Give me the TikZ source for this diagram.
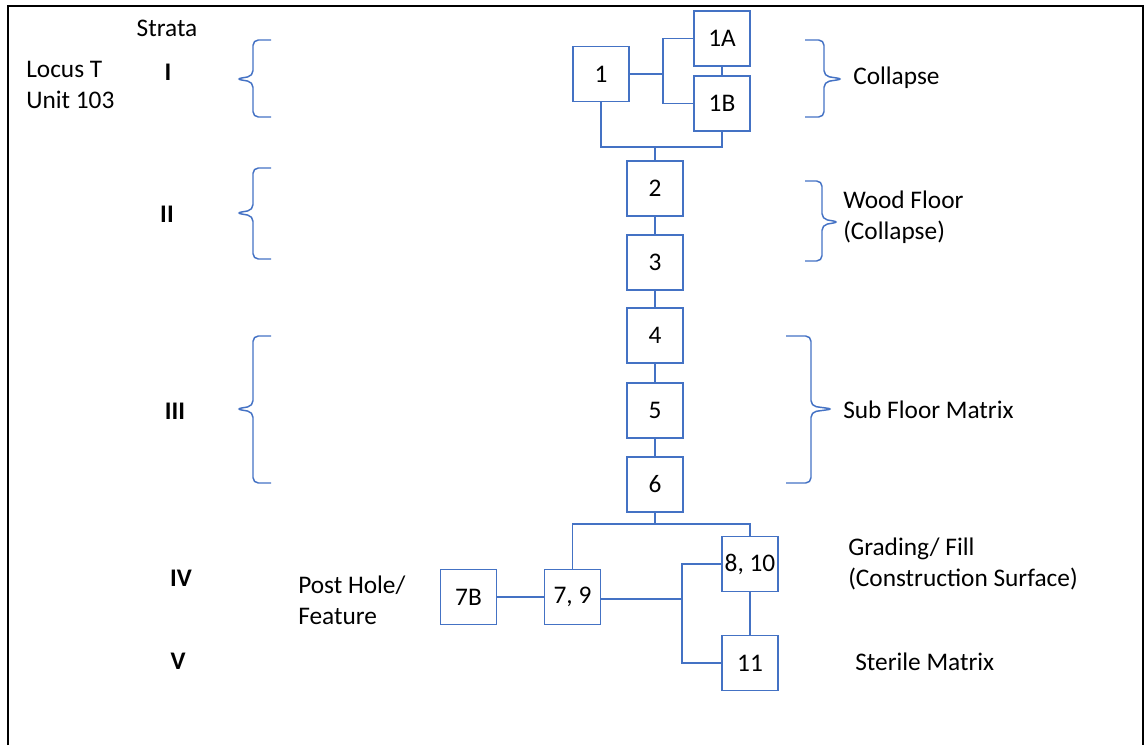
\documentclass[tikz,border=0pt]{standalone}
\usepackage{fontspec}
\setmainfont{Carlito}
\usepackage{xcolor}
\definecolor{boxblue}{HTML}{4472C4}

\begin{document}
\begin{tikzpicture}[
          x=0.75pt, y=-0.75pt,
          unit/.style={draw=boxblue, line width=1.2pt, minimum width=42pt, minimum height=41pt, inner sep=0pt, font=\fontsize{19}{22}\selectfont},
          link/.style={draw=boxblue, line width=1.1pt},
          brc/.style={draw=boxblue, line width=1.1pt, rounded corners=4pt},
          lbl/.style={font=\fontsize{19}{23.5}\selectfont, align=left, anchor=west, inner sep=0pt},
          strat/.style={font=\fontsize{19}{22}\selectfont\bfseries, inner sep=0pt}
      ]
        \useasboundingbox (0,0) rectangle (1144,745);
        \draw[line width=1.5pt] (8,745) -- (8,6) -- (1143,6) -- (1143,745);

        % strata column
        \node[lbl, anchor=center] (strata) at (167,28) {Strata};
        \node[lbl] (locus) at (26,85) {Locus T\\Unit 103};
        \foreach \s/\x/\y in {I/168/72,II/167/214,III/175/411,IV/181/578,V/178/661} {
          \node[strat] (st\s) at (\x,\y) {\s};
        }

        % braces
        \foreach \t/\m/\b in {40/79/117,168/213/259,336/409/483} {
          \draw[brc] (271,\t) -- (253,\t) -- (253,\m-3) -- (236,\m) -- (253,\m+3) -- (253,\b) -- (271,\b);
        }
        \foreach \t/\m/\b/\xe/\xv/\xt in {40/79/117/805/824/843,181/222/261/805/822/839,336/409/483/786/811/833} {
          \draw[brc] (\xe,\t) -- (\xv,\t) -- (\xv,\m-3) -- (\xt,\m) -- (\xv,\m+3) -- (\xv,\b) -- (\xe,\b);
        }

        % units
        \node[unit] (n1) at (601,74) {1};
        \node[unit] (n1a) at (722,38.5) {1A};
        \node[unit] (n1b) at (722,103.5) {1B};
        \foreach \n/\y in {2/188.5,3/262.5,4/335.5,5/410.5,6/484.5} {
          \node[unit] (n\n) at (655,\y) {\n};
        }
        \node[unit] (n7b) at (468.5,597) {7B};
        \node[unit] (n79) at (572.5,597) {7, 9};
        \node[unit] (n810) at (750,564) {8, 10};
        \node[unit] (n11) at (750,663) {11};

        % connectors
        \coordinate (jt) at (664,74);
        \coordinate (j1) at (655,147);
        \coordinate (j6) at (655,524);
        \coordinate (jm) at (683,599);
        \draw[link] (n1.east) -- (jt);
        \draw[link] (n1a.west) -- ++(-30,0) |- (n1b.west);
        \draw[link] (n1a) -- (n1b);
        \draw[link] (n1.south) |- (j1) -| (n1b.south);
        \draw[link] (j1) -- (n2.north);
        \foreach \a/\b in {2/3,3/4,4/5,5/6} {
          \draw[link] (n\a) -- (n\b);
        }
        \draw[link] (n6.south) -- (j6);
        \draw[link] (n79.north) |- (j6) -| (n810.north);
        \draw[link] (n7b) -- (n79);
        \draw[link] (n79.east |- jm) -- (jm);
        \draw[link] (n810.west) -- ++(-39,0) |- (n11.west);
        \draw[link] (n810) -- (n11);

        % layer labels
        \node[lbl] (collapse) at (853,78) {Collapse};
        \node[lbl] (wood) at (843,217) {Wood Floor\\(Collapse)};
        \node[lbl] (subfloor) at (843,410) {Sub Floor Matrix};
        \node[lbl] (grading) at (848,564) {Grading/ Fill\\(Construction Surface)};
        \node[lbl] (sterile) at (855,662) {Sterile Matrix};
        \node[lbl] (posthole) at (298,600) {Post Hole/\\Feature};
      \end{tikzpicture}
\end{document}
